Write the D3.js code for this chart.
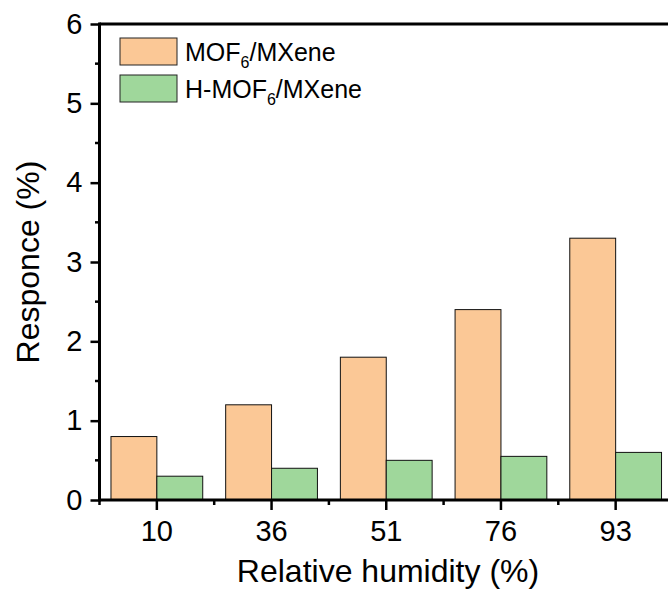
<!DOCTYPE html>
<html lang="en">
  <head>
    <meta charset="UTF-8" />
    <title>Responce vs humidity</title>
    <script src="https://cdn.jsdelivr.net/npm/d3@7"></script>
    <style>
      body { margin: 0; background: #fff; }
      svg { display: block; font-family: "Liberation Sans", Arial, sans-serif; }
    </style>
  </head>
  <body>
    <svg id="chart" width="668" height="603"></svg>
    <script>
      // data
      let humidity = ["10", "36", "51", "76", "93"];
      let mof = [0.8, 1.2, 1.8, 2.4, 3.3];
      let hmof = [0.3, 0.4, 0.5, 0.55, 0.6];
      let seriesNames = ["MOF", "H-MOF"];
      let yTicks = [0, 1, 2, 3, 4, 5, 6];
      let yMinor = [0.5, 1.5, 2.5, 3.5, 4.5, 5.5];

      let colors = { "MOF": "#fbc896", "H-MOF": "#9fd79b" };

      let svg = d3.select("#chart");
      let plotLeft = 99.5, plotRight = 673, plotTop = 24, plotBottom = 500;

      let x0 = d3.scaleBand().domain(humidity).range([plotLeft, plotRight]).padding(0);
      let step = x0.step();
      let x1 = d3.scaleBand().domain(seriesNames).range([step * 0.1, step * 0.9]).padding(0);
      let y = d3.scaleLinear().domain([0, 6]).range([plotBottom, plotTop]);

      // bars
      let rows = humidity.map((h, i) => ({ h: h, vals: [
        { key: "MOF", v: mof[i] },
        { key: "H-MOF", v: hmof[i] }
      ]}));

      let groups = svg.append("g").selectAll("g").data(rows).join("g")
        .attr("transform", d => `translate(${x0(d.h)},0)`);
      groups.selectAll("rect").data(d => d.vals).join("rect")
        .attr("x", d => x1(d.key))
        .attr("y", d => y(d.v))
        .attr("width", x1.bandwidth())
        .attr("height", d => y(0) - y(d.v))
        .attr("fill", d => colors[d.key])
        .attr("stroke", "#111")
        .attr("stroke-width", 1);

      // y axis
      let yAxis = svg.append("g").attr("transform", `translate(${plotLeft},0)`)
        .call(d3.axisLeft(y).tickValues(yTicks).tickSize(9).tickPadding(8).tickFormat(d3.format("d")));
      yAxis.selectAll("text").style("font-size", "29px").attr("fill", "#000");
      yAxis.selectAll("line").attr("stroke-width", 2.5);
      yAxis.select(".domain").remove();
      svg.append("g").selectAll("line").data(yMinor).join("line")
        .attr("x1", plotLeft - 4.5).attr("x2", plotLeft)
        .attr("y1", d => y(d)).attr("y2", d => y(d))
        .attr("stroke", "#000").attr("stroke-width", 2.5);

      // x axis
      let xAxis = svg.append("g").attr("transform", `translate(0,${plotBottom})`)
        .call(d3.axisBottom(x0).tickSize(10).tickPadding(10));
      xAxis.selectAll("text").style("font-size", "29px").attr("fill", "#000");
      xAxis.selectAll("line").attr("stroke-width", 2.5);
      xAxis.select(".domain").remove();
      let bounds = humidity.map(h => x0(h)).concat([plotRight]);
      svg.append("g").selectAll("line").data(bounds).join("line")
        .attr("x1", d => d).attr("x2", d => d)
        .attr("y1", plotBottom).attr("y2", plotBottom + 5)
        .attr("stroke", "#000").attr("stroke-width", 2.5);

      // frame lines
      svg.append("line").attr("x1", plotLeft).attr("x2", 668).attr("y1", plotBottom).attr("y2", plotBottom)
        .attr("stroke", "#000").attr("stroke-width", 3);
      svg.append("line").attr("x1", plotLeft).attr("x2", 668).attr("y1", plotTop).attr("y2", plotTop)
        .attr("stroke", "#000").attr("stroke-width", 3);
      svg.append("line").attr("x1", plotLeft).attr("x2", plotLeft).attr("y1", plotTop - 1.5).attr("y2", plotBottom + 1.5)
        .attr("stroke", "#000").attr("stroke-width", 3);

      // axis titles
      svg.append("text").attr("x", 388).attr("y", 582).attr("text-anchor", "middle")
        .style("font-size", "32px").text("Relative humidity (%)");
      svg.append("text").attr("transform", "translate(39,262) rotate(-90)").attr("text-anchor", "middle")
        .style("font-size", "32px").text("Responce (%)");

      // legend
      let legend = [
        { key: "MOF", pre: "MOF", post: "/MXene" },
        { key: "H-MOF", pre: "H-MOF", post: "/MXene" }
      ];
      let lg = svg.append("g").selectAll("g").data(legend).join("g")
        .attr("transform", (d, i) => `translate(120,${38 + i * 37})`);
      lg.append("rect").attr("width", 57).attr("height", 27)
        .attr("fill", d => colors[d.key]).attr("stroke", "#222").attr("stroke-width", 1);
      let lt = lg.append("text").attr("x", 65).attr("y", 23).style("font-size", "25px");
      lt.append("tspan").text(d => d.pre);
      lt.append("tspan").attr("dy", 7).style("font-size", "16px").text("6");
      lt.append("tspan").attr("dy", -7).text(d => d.post);
    </script>
  </body>
</html>
